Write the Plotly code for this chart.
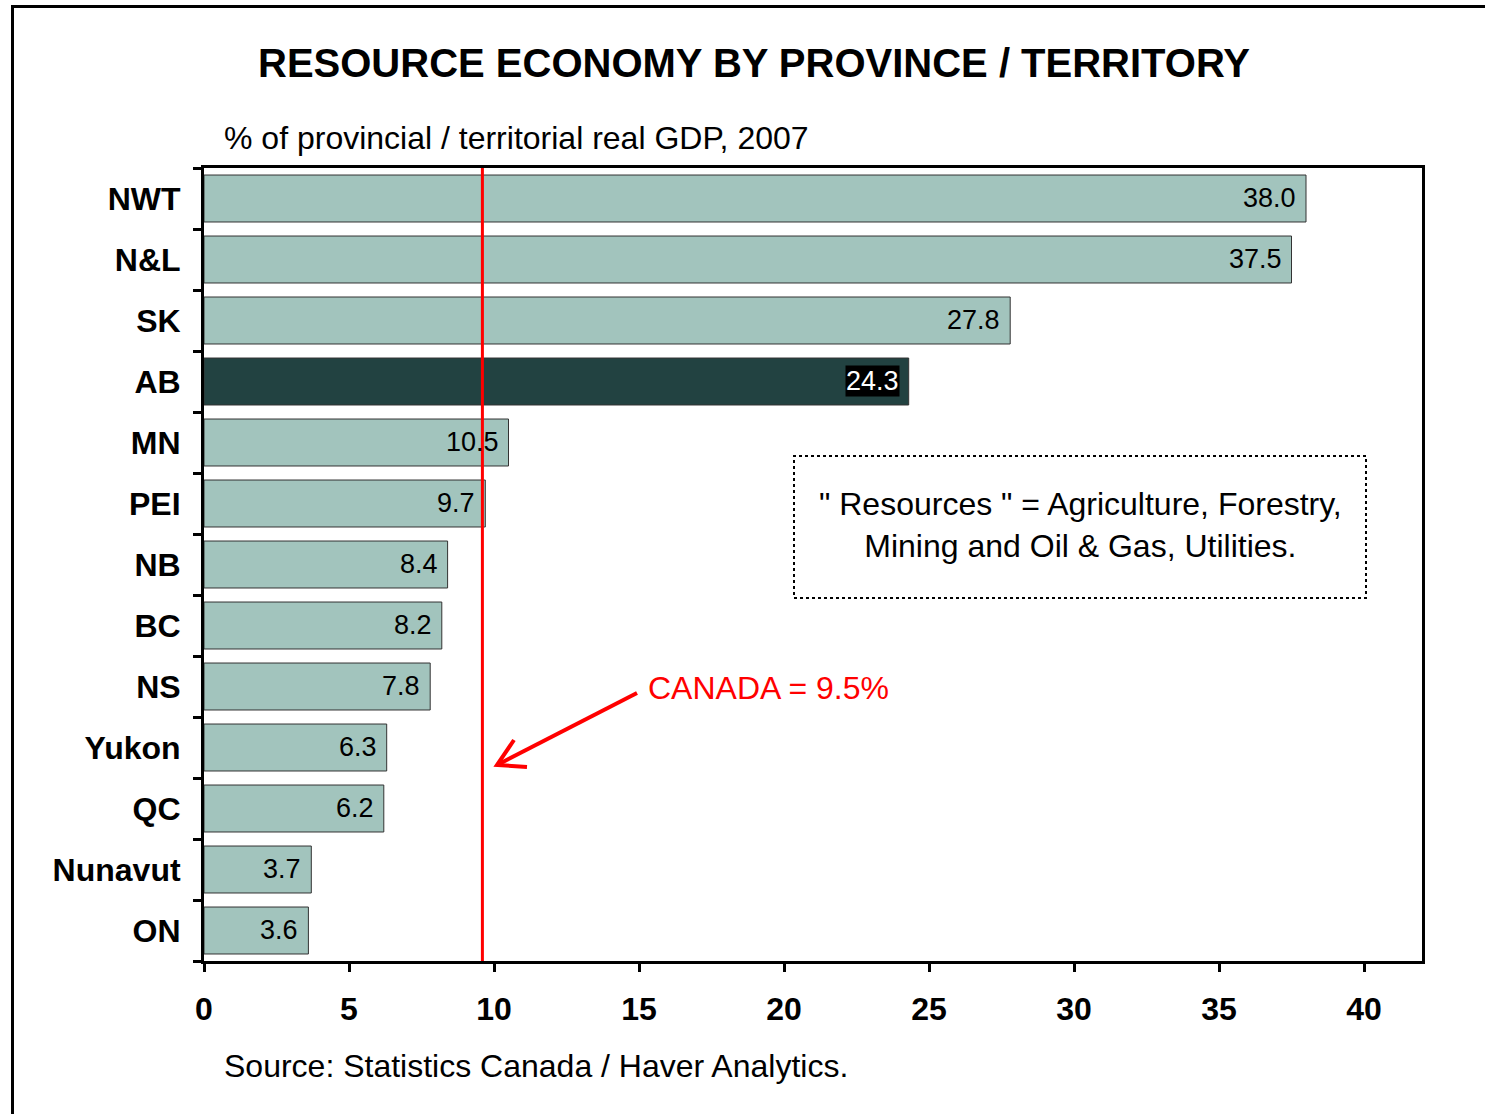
import plotly.graph_objects as go

# ---- data ----
regions = ["NWT", "N&L", "SK", "AB", "MN", "PEI", "NB", "BC", "NS", "Yukon", "QC", "Nunavut", "ON"]
shares = [38.0, 37.5, 27.8, 24.3, 10.5, 9.7, 8.4, 8.2, 7.8, 6.3, 6.2, 3.7, 3.6]
highlight = "AB"
canada_value = 9.5
canada_line_x = 9.6
x_ticks = [0, 5, 10, 15, 20, 25, 30, 35, 40]

FONT = "Liberation Sans, Arial, sans-serif"
LIGHT = "#A2C4BD"
DARK = "#224241"

W, H = 1485, 1114
ML, MR, MT, MB = 204, 63, 168, 153
PW, PH = W - ML - MR, H - MT - MB


def px(x):
    return (x - ML) / PW


def py(y):
    return (H - MB - y) / PH


colors = [DARK if r == highlight else LIGHT for r in regions]

fig = go.Figure()
fig.add_trace(go.Bar(
    x=shares, y=regions, orientation="h",
    marker=dict(color=colors, line=dict(color="#333333", width=1)),
    hoverinfo="x+y", showlegend=False,
))

annotations = []
for r, v in zip(regions, shares):
    is_h = r == highlight
    annotations.append(dict(
        x=v, y=r, xref="x", yref="y", text=f"{v:.1f}", showarrow=False,
        xanchor="right", yanchor="middle", xshift=-9, yshift=1,
        font=dict(family=FONT, size=27, color="white" if is_h else "black"),
        bgcolor="black" if is_h else None, borderpad=0,
    ))

# title, subtitle, source
annotations += [
    dict(x=px(754), y=py(63), xref="paper", yref="paper", showarrow=False,
         text="<b>RESOURCE ECONOMY BY PROVINCE / TERRITORY</b>",
         font=dict(family=FONT, size=40, color="black"), xanchor="center", yanchor="middle"),
    dict(x=px(222), y=py(138), xref="paper", yref="paper", showarrow=False,
         text="% of provincial / territorial real GDP, 2007",
         font=dict(family=FONT, size=32, color="black"), xanchor="left", yanchor="middle"),
    dict(x=px(222), y=py(1066), xref="paper", yref="paper", showarrow=False,
         text="Source: Statistics Canada / Haver Analytics.",
         font=dict(family=FONT, size=32, color="black"), xanchor="left", yanchor="middle"),
    dict(x=px(1080), y=py(525), xref="paper", yref="paper", showarrow=False,
         text="\" Resources \" = Agriculture, Forestry,<br>Mining and Oil &amp; Gas, Utilities.",
         font=dict(family=FONT, size=32, color="black"), xanchor="center", yanchor="middle",
         align="center"),
    dict(x=px(646), y=py(688), xref="paper", yref="paper", showarrow=False,
         text=f"CANADA = {canada_value}%",
         font=dict(family=FONT, size=32, color="#FF0000"), xanchor="left", yanchor="middle"),
]

shapes = [
    # outer frame
    dict(type="rect", xref="paper", yref="paper", x0=px(12.5), x1=px(1495), y0=py(1125), y1=py(6.5),
         line=dict(color="black", width=3), layer="below"),
    # note box
    dict(type="rect", xref="paper", yref="paper", x0=px(794), x1=px(1366), y0=py(598), y1=py(456),
         line=dict(color="black", width=2, dash="dot")),
    # Canada line
    dict(type="line", xref="x", yref="paper", x0=canada_line_x, x1=canada_line_x, y0=0, y1=1,
         line=dict(color="#FF0000", width=3), layer="above"),
    # arrow shaft and head
    dict(type="path", xref="paper", yref="paper",
         path=f"M {px(637)} {py(693)} L {px(497)} {py(765)}",
         line=dict(color="#FF0000", width=4)),
    dict(type="path", xref="paper", yref="paper",
         path=f"M {px(514)} {py(740)} L {px(497)} {py(765)} L {px(527)} {py(767)}",
         line=dict(color="#FF0000", width=4)),
]

fig.update_layout(
    width=W, height=H,
    margin=dict(l=ML, r=MR, t=MT, b=MB, pad=0),
    paper_bgcolor="white", plot_bgcolor="white",
    bargap=0.23,
    annotations=annotations, shapes=shapes,
    font=dict(family=FONT, color="black"),
    showlegend=False,
)
fig.update_xaxes(
    range=[0, 42], tickvals=x_ticks, ticktext=[f"<b>{t}</b>" for t in x_ticks],
    ticks="outside", ticklen=8, tickwidth=3, tickcolor="black",
    showline=True, linewidth=3, linecolor="black", mirror=True,
    showgrid=False, zeroline=False,
    tickfont=dict(family=FONT, size=32, color="black"), ticklabelstandoff=10,
)
fig.update_yaxes(
    categoryorder="array", categoryarray=regions, autorange="reversed",
    tickvals=regions, ticktext=[f"<b>{r}</b>" for r in regions],
    ticks="outside", tickson="boundaries", ticklen=8, tickwidth=3, tickcolor="black",
    showline=True, linewidth=3, linecolor="black", mirror=True,
    showgrid=False, zeroline=False,
    tickfont=dict(family=FONT, size=32, color="black"), ticklabelstandoff=14,
)

fig.write_html(
    "out.html",
    config={"displayModeBar": False},
    post_script="document.body.style.margin='0';document.body.style.overflow='hidden';",
)
